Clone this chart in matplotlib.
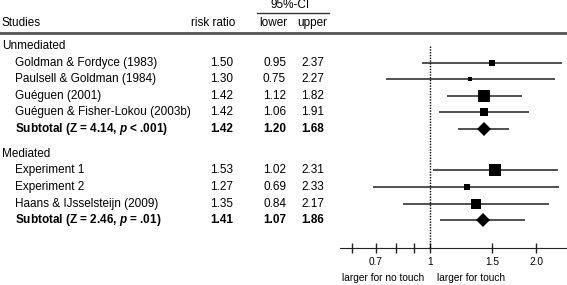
import matplotlib.pyplot as plt

plt.rcParams['font.family'] = ['Liberation Sans', 'DejaVu Sans']
plt.rcParams['font.size'] = 8.5
plt.rcParams['mathtext.fontset'] = 'custom'
plt.rcParams['mathtext.it'] = 'Liberation Sans:bold:italic'
plt.rcParams['mathtext.rm'] = 'Liberation Sans:bold'

# Data
unmed_names = ['Goldman & Fordyce (1983)', 'Paulsell & Goldman (1984)',
               'Guéguen (2001)', 'Guéguen & Fisher-Lokou (2003b)']
unmed_rr = [1.50, 1.30, 1.42, 1.42]
unmed_lo = [0.95, 0.75, 1.12, 1.06]
unmed_hi = [2.37, 2.27, 1.82, 1.91]
unmed_w = [6.0, 5.0, 12.7, 9.0]
unmed_sub = ['Subtotal (Z = 4.14, $p$ < .001)', 1.42, 1.20, 1.68]

med_names = ['Experiment 1', 'Experiment 2', 'Haans & IJsselsteijn (2009)']
med_rr = [1.53, 1.27, 1.35]
med_lo = [1.02, 0.69, 0.84]
med_hi = [2.31, 2.33, 2.17]
med_w = [12.5, 7.0, 10.0]
med_sub = ['Subtotal (Z = 2.46, $p$ = .01)', 1.41, 1.07, 1.86]

ticks = [0.6, 0.7, 0.8, 0.9, 1, 1.5, 2.0]
tick_labels = ['', '0.7', '', '', '1', '1.5', '2.0']

groups = [('Unmediated', 0, unmed_names, unmed_rr, unmed_lo, unmed_hi, unmed_w, unmed_sub),
          ('Mediated', 6.5, med_names, med_rr, med_lo, med_hi, med_w, med_sub)]

W, H = 567, 285
fig = plt.figure(figsize=(W / 100, H / 100), dpi=100)
ylim = (14.40, -2.771)

# text panel, x in pixel-like units
ax = fig.add_axes([0, 0, 1, 1])
ax.set_xlim(0, W)
ax.set_ylim(*ylim)
ax.axis('off')

# forest panel
ax2 = fig.add_axes([340 / W, 0, (W - 340) / W, 1])
ax2.set_facecolor('none')
ax2.set_xscale('log')
ax2.set_xlim(0.555, 2.448)
ax2.set_ylim(*ylim)
for s in ['left', 'right', 'top']:
    ax2.spines[s].set_visible(False)
ax2.spines['bottom'].set_position(('data', 12.17))
ax2.spines['bottom'].set_color('#222222')
ax2.set_yticks([])
ax2.set_xticks(ticks)
ax2.set_xticklabels(tick_labels)
ax2.minorticks_off()
ax2.tick_params(axis='x', direction='inout', length=7, width=1, pad=3,
                color='#222222', labelsize=7.3)

# headers
ax.text(2, -1.39, 'Studies', ha='left', va='center')
ax.text(235, -1.39, 'risk ratio', ha='right', va='center')
ax.text(287, -1.39, 'lower', ha='right', va='center')
ax.text(327, -1.39, 'upper', ha='right', va='center')
ax.text(290, -2.47, '95%-CI', ha='center', va='center')
ax.plot([257, 329], [-1.99, -1.99], color='#333333', lw=1)
ax.plot([0, W], [-0.78, -0.78], color='#555555', lw=2)

def row_text(y, name, rr, lo, hi, bold=False):
    fw = 'bold' if bold else 'normal'
    ax.text(15, y, name, ha='left', va='center', fontweight=fw)
    ax.text(233, y, f'{rr:.2f}', ha='right', va='center', fontweight=fw)
    ax.text(286, y, f'{lo:.2f}', ha='right', va='center', fontweight=fw)
    ax.text(324, y, f'{hi:.2f}', ha='right', va='center', fontweight=fw)

for title, y0, names, rr, lo, hi, w, sub in groups:
    ax.text(2, y0, title, ha='left', va='center')
    for i, n in enumerate(names):
        y = y0 + 1 + i
        row_text(y, n, rr[i], lo[i], hi[i])
        ax2.hlines(y, lo[i], hi[i], color='#333333', lw=1.2)
        ax2.plot(rr[i], y, marker='s', color='black', ms=w[i] / 1.39,
                 markeredgewidth=0)
    ys = y0 + 1 + len(names)
    row_text(ys, sub[0], sub[1], sub[2], sub[3], bold=True)
    ax2.hlines(ys, sub[2], sub[3], color='#333333', lw=1.2)
    ax2.plot(sub[1], ys, marker='D', color='black', ms=7.0, markeredgewidth=0)

ax2.vlines(1, 0.0, 12.17, colors='black', linestyles=(0, (1, 1)), lw=1)

ax.text(424, 13.98, 'larger for no touch', ha='right', va='center', fontsize=7.3)
ax.text(437, 13.98, 'larger for touch', ha='left', va='center', fontsize=7.3)

fig.savefig('out.png', dpi=100)
